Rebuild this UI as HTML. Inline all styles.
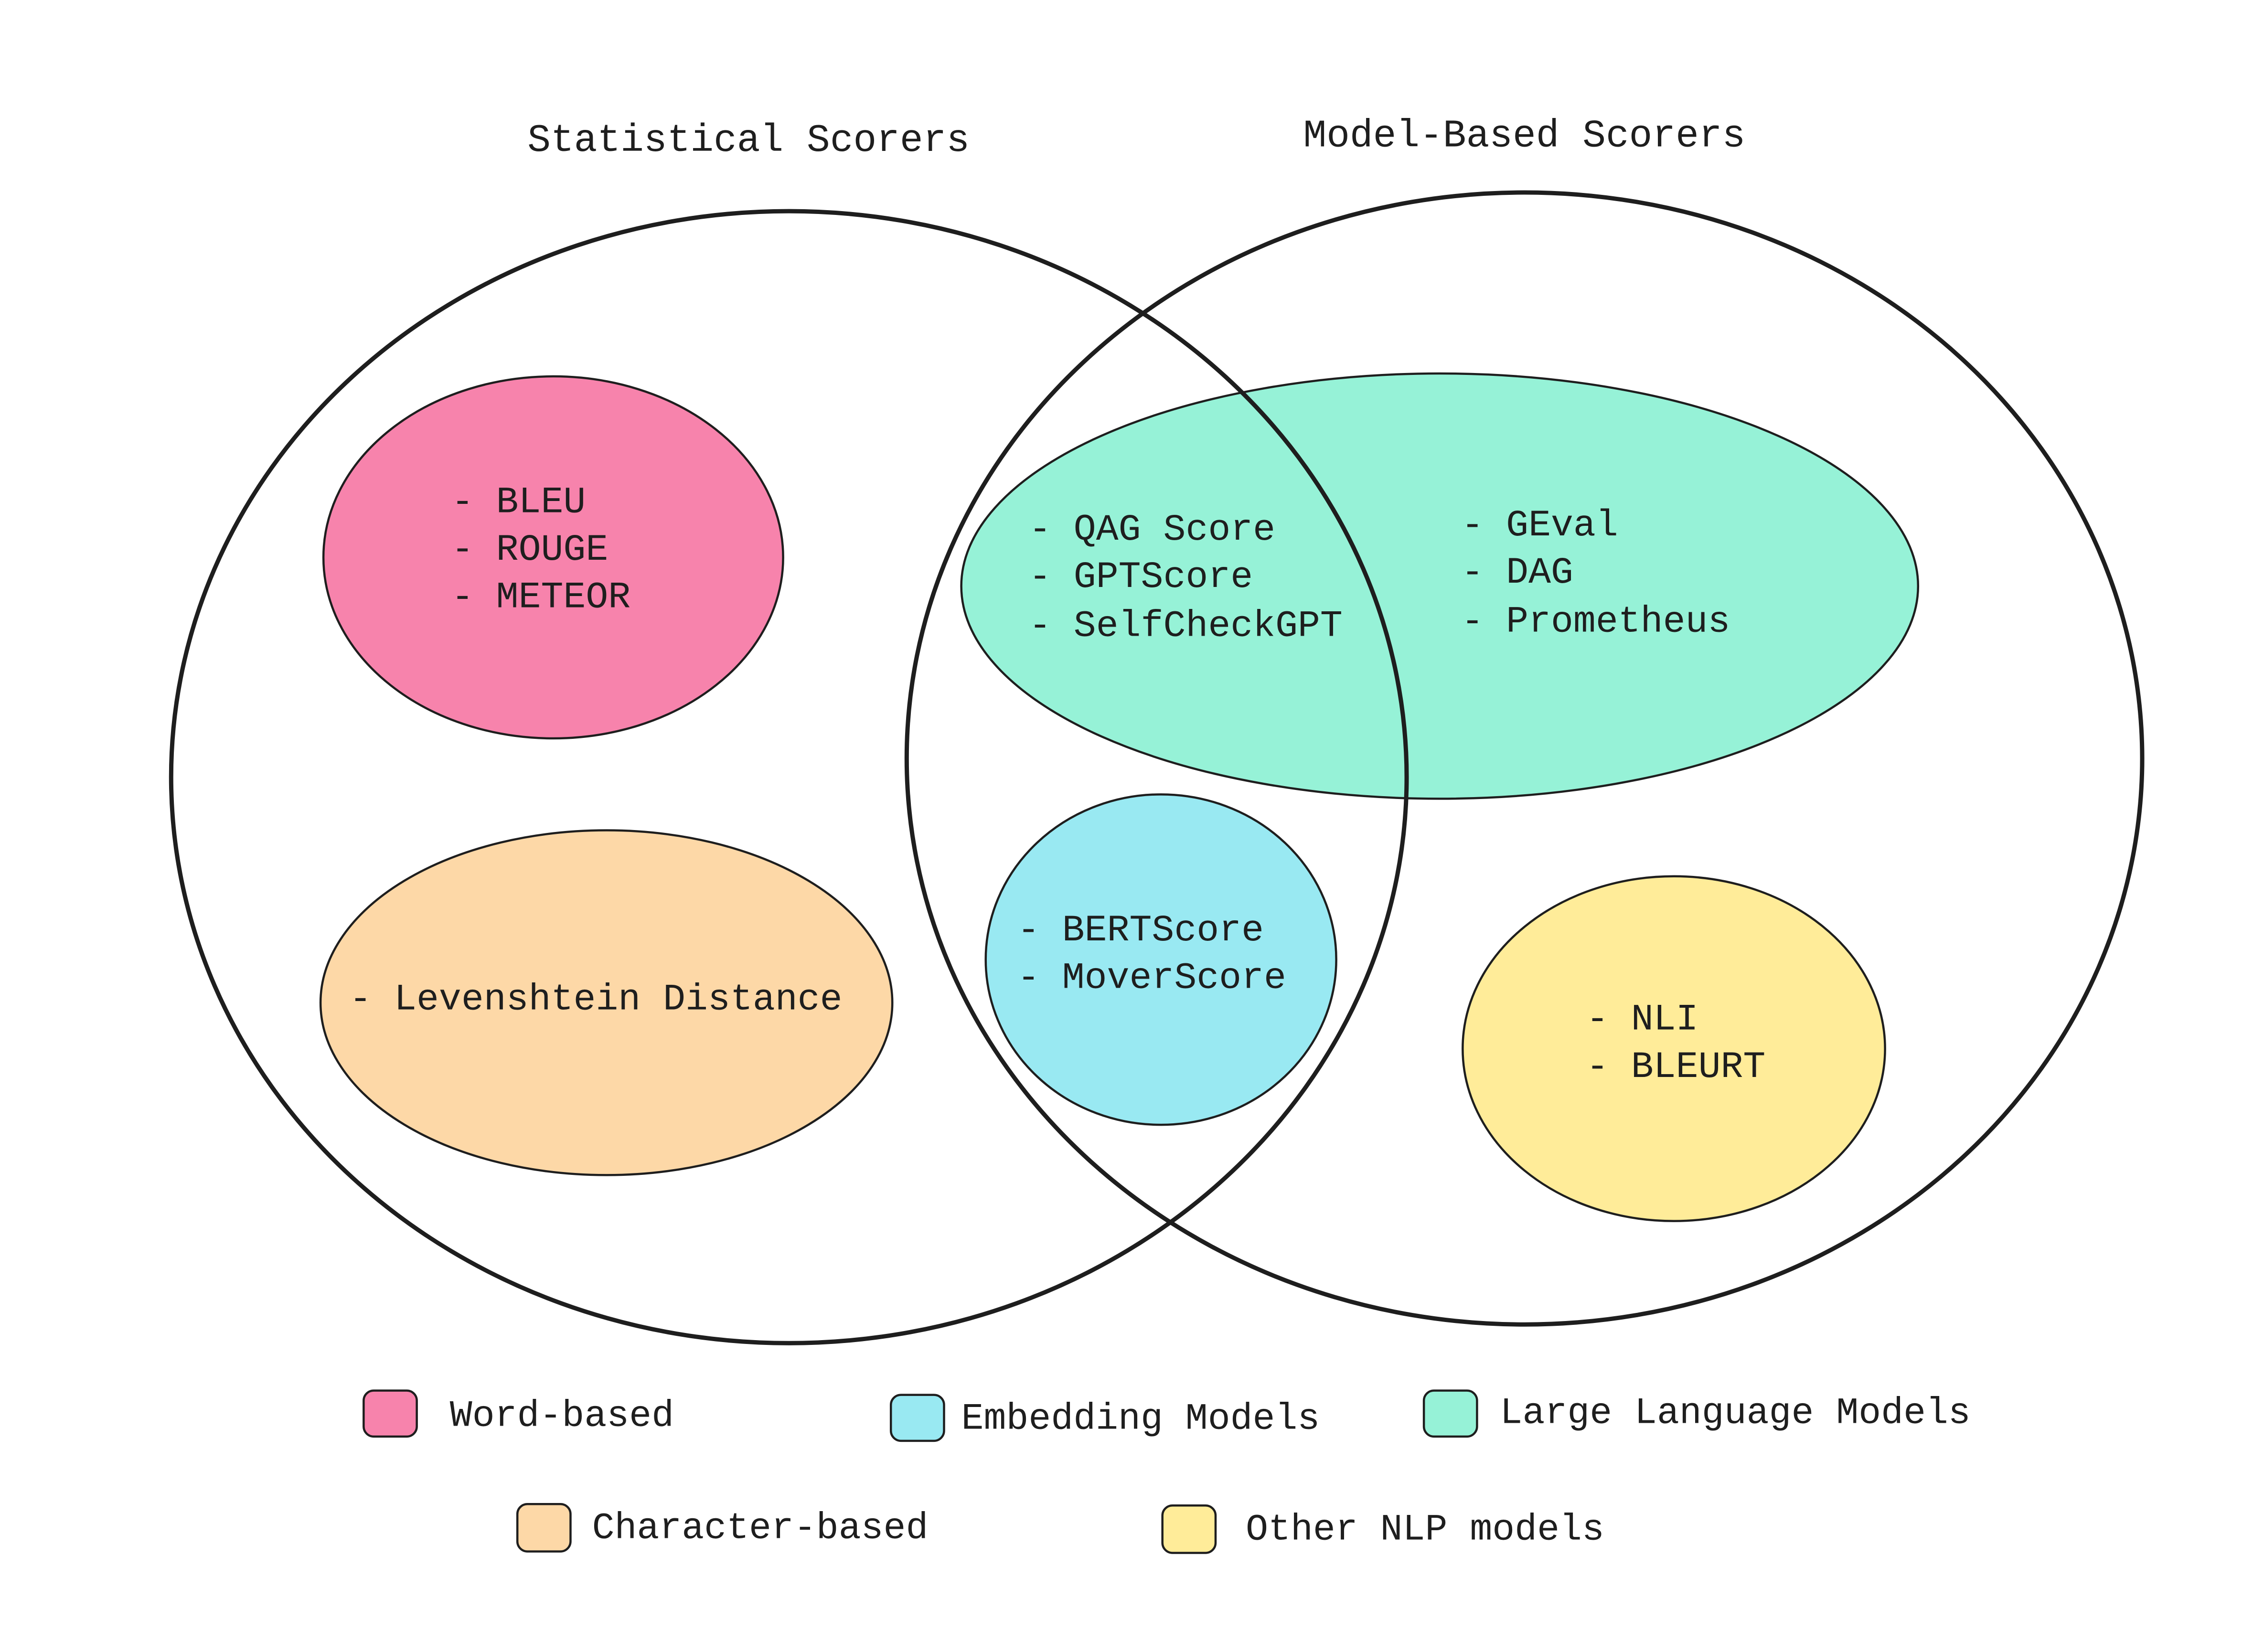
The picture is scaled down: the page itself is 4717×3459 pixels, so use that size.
<!DOCTYPE html>
<html><head><meta charset="utf-8"><style>
html,body{margin:0;padding:0;background:#fff;}
svg{display:block}
text{font-family:"Liberation Mono","DejaVu Sans Mono",monospace;font-size:26px;fill:#1e1e1e;dominant-baseline:central;}
</style></head><body>
<svg width="4717" height="3459" viewBox="0 0 1568 1150" xmlns="http://www.w3.org/2000/svg">
<rect width="1568" height="1150" fill="#fff"/>
<g stroke="#1e1e1e" stroke-width="1.5">
<ellipse cx="385" cy="388" rx="160" ry="126" fill="#f783ac"/>
<ellipse cx="422" cy="698" rx="199" ry="120" fill="#fdd8a7"/>
<ellipse cx="1002" cy="408" rx="333" ry="148" fill="#96f2d7"/>
<ellipse cx="808" cy="668" rx="122" ry="115" fill="#99e9f2"/>
<ellipse cx="1165" cy="730" rx="147" ry="120" fill="#ffec99"/>
</g>
<g stroke="#1e1e1e" stroke-width="3" fill="none">
<ellipse cx="549" cy="541" rx="430" ry="394"/>
<ellipse cx="1061" cy="528" rx="430" ry="394"/>
</g>
<text x="367" y="98" style="font-size:27px">Statistical Scorers</text>
<text x="907" y="95" style="font-size:27px">Model-Based Scorers</text>
<text x="314" y="350">- BLEU</text>
<text x="314" y="383">- ROUGE</text>
<text x="314" y="416">- METEOR</text>
<text x="716" y="369">- QAG Score</text>
<text x="716" y="402">- GPTScore</text>
<text x="716" y="436">- SelfCheckGPT</text>
<text x="1017" y="366">- GEval</text>
<text x="1017" y="399">- DAG</text>
<text x="1017" y="433">- Prometheus</text>
<text x="243" y="696">- Levenshtein Distance</text>
<text x="708" y="648">- BERTScore</text>
<text x="708" y="681">- MoverScore</text>
<text x="1104" y="710">- NLI</text>
<text x="1104" y="743">- BLEURT</text>
<g stroke="#1e1e1e" stroke-width="1.5">
<rect x="253" y="968" width="37" height="32" rx="7" fill="#f783ac"/>
<rect x="620" y="971" width="37" height="32" rx="7" fill="#99e9f2"/>
<rect x="991" y="968" width="37" height="32" rx="7" fill="#96f2d7"/>
<rect x="360" y="1047" width="37" height="33" rx="7" fill="#fdd8a7"/>
<rect x="809" y="1048" width="37" height="33" rx="7" fill="#ffec99"/>
</g>
<text x="313" y="986">Word-based</text>
<text x="669" y="988">Embedding Models</text>
<text x="1044" y="984">Large Language Models</text>
<text x="412" y="1064">Character-based</text>
<text x="867" y="1065">Other NLP models</text>
</svg>
</body></html>
